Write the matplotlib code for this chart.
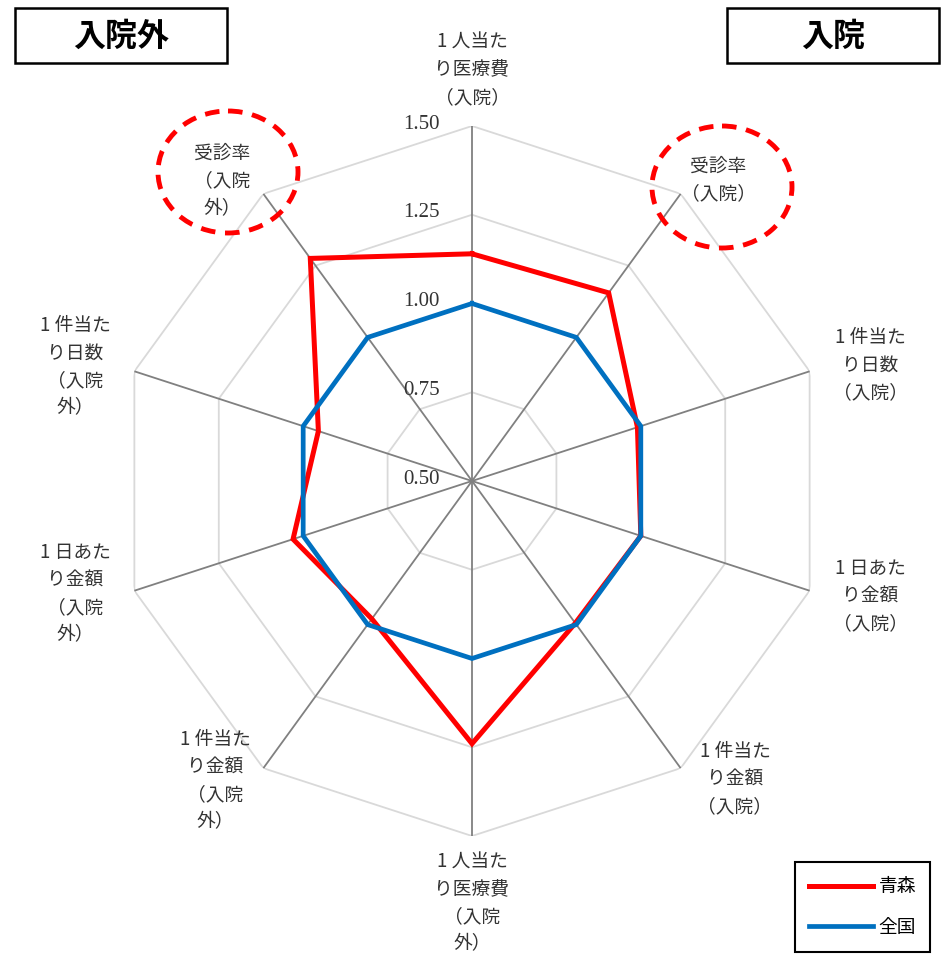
import numpy as np
import matplotlib
matplotlib.use("Agg")
import matplotlib.pyplot as plt
from matplotlib.patches import Ellipse, Rectangle

plt.rcParams['font.family'] = ['Noto Sans CJK JP', 'DejaVu Sans']

# ラベル（上から時計回り）
categories = [
    "1人当たり医療費（入院）", "受診率（入院）", "1件当たり日数（入院）",
    "1日あたり金額（入院）", "1件当たり金額（入院）", "1人当たり医療費（入院外）",
    "1件当たり金額（入院外）", "1日あたり金額（入院外）", "1件当たり日数（入院外）",
    "受診率（入院外）",
]
aomori = [1.14, 1.155, 0.99, 1.0, 0.995, 1.24, 0.98, 1.03, 0.955, 1.275]
zenkoku = [1.0, 1.0, 1.0, 1.0, 1.0, 1.0, 1.0, 1.0, 1.0, 1.0]
r_ticks = [0.50, 0.75, 1.00, 1.25, 1.50]
tick_labels = ["0.50", "0.75", "1.00", "1.25", "1.50"]

W, H = 947, 956
fig = plt.figure(figsize=(W / 100, H / 100), dpi=100)

# レーダー本体
cx, cy, R = 472, 481, 355
ax = fig.add_axes([(cx - R) / W, 1 - (cy + R) / H, 2 * R / W, 2 * R / H], projection='polar')
ax.set_theta_zero_location('N')
ax.set_theta_direction(-1)
ax.set_ylim(r_ticks[0], r_ticks[-1])
ax.grid(False)
ax.spines['polar'].set_visible(False)
ax.set_xticks([])
ax.set_yticks([])
ax.patch.set_alpha(0)

n = len(categories)
ang = np.linspace(0, 2 * np.pi, n, endpoint=False)
ang_c = np.append(ang, ang[0])

for lv in r_ticks[1:]:
    ax.plot(ang_c, [lv] * (n + 1), color='#d9d9d9', lw=1.3, zorder=1)
for a in ang:
    ax.plot([a, a], [r_ticks[0], r_ticks[-1]], color='#808080', lw=1.3, zorder=2)

l1, = ax.plot(ang_c, aomori + aomori[:1], color='#ff0000', lw=3.6, zorder=4,
              solid_joinstyle='miter', label='青森')
l2, = ax.plot(ang_c, zenkoku + zenkoku[:1], color='#0070c0', lw=3.4, zorder=5,
              solid_joinstyle='miter', label='全国')

# 注記用のピクセル座標レイヤー
ov = fig.add_axes([0, 0, 1, 1], zorder=10)
ov.set_xlim(0, W)
ov.set_ylim(H, 0)
ov.axis('off')
ov.patch.set_alpha(0)

# 目盛り
for v, t in zip(r_ticks, tick_labels):
    y = cy - (v - r_ticks[0]) / (r_ticks[-1] - r_ticks[0]) * R
    ov.text(440, y - 2, t, ha='right', va='center', fontsize=15,
            family=['Liberation Serif', 'DejaVu Serif'], color='#333333')

# 軸ラベル
label_txt = [
    ("1 人当た\nり医療費\n（入院）", 472, 70),
    ("受診率\n（入院）", 718, 180),
    ("1 件当た\nり日数\n（入院）", 870, 365),
    ("1 日あた\nり金額\n（入院）", 870, 596),
    ("1 件当た\nり金額\n（入院）", 735, 779),
    ("1 人当た\nり医療費\n（入院\n外）", 472, 903),
    ("1 件当た\nり金額\n（入院\n外）", 215, 781),
    ("1 日あた\nり金額\n（入院\n外）", 75, 594),
    ("1 件当た\nり日数\n（入院\n外）", 75, 367),
    ("受診率\n（入院\n外）", 222, 181),
]
for t, x, y in label_txt:
    ov.text(x, y, t, ha='center', va='center', fontsize=13.5, linespacing=1.4,
            color='#333333')

# タイトル枠
for t, x0, x1 in [("入院外", 15, 227), ("入院", 727, 939)]:
    ov.add_patch(Rectangle((x0, 8), x1 - x0, 55, fill=False, ec='black', lw=1.8))
    ov.text((x0 + x1) / 2, 37, t, ha='center', va='center', fontsize=23,
            fontweight='bold')

# 赤い破線の丸
for ex, ey in [(228, 172), (722, 187)]:
    ov.add_patch(Ellipse((ex, ey), 140, 122, fill=False, ec='#ff0000', lw=3.5,
                         ls=(0, (3, 2))))

# 凡例
leg = fig.legend(handles=[l1, l2], loc='lower right',
                 bbox_to_anchor=(930 / W, 1 - 952 / H), borderaxespad=0,
                 fontsize=13.5, handlelength=3.4, labelspacing=1.05,
                 borderpad=0.75, handletextpad=0.3, fancybox=False, framealpha=1)
leg.get_frame().set_edgecolor('black')
leg.get_frame().set_linewidth(1.5)

fig.savefig("out.png", dpi=100)
